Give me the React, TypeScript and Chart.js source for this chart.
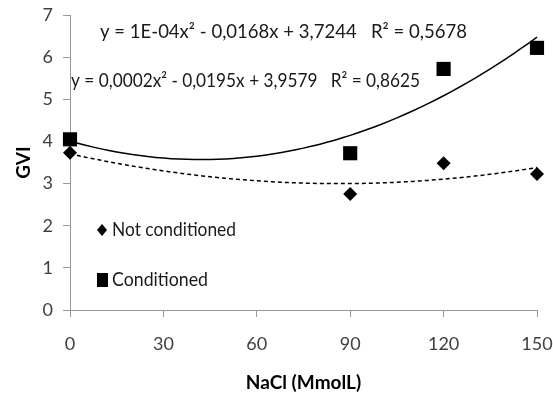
import React, { useEffect, useRef } from "react";
import { Chart, registerables } from "chart.js";

Chart.register(...registerables);

// ---- data ----
const nacl = [0, 90, 120, 150];
const notConditioned = [3.73, 2.75, 3.48, 3.23];
const conditioned = [4.05, 3.72, 5.72, 6.22];
const xTickValues = [0, 30, 60, 90, 120, 150];
const yTickValues = [0, 1, 2, 3, 4, 5, 6, 7];
const eqNotConditioned = "y = 1E-04x² - 0,0168x + 3,7244   R² = 0,5678";
const eqConditioned = "y = 0,0002x² - 0,0195x + 3,9579   R² = 0,8625";
const legendLabels = ["Not conditioned", "Conditioned"];
const xTitle = "NaCl (MmolL)";
const yTitle = "GVI";

const FONT = 'Lato, "Open Sans", sans-serif';

// polynomial (order 2) least-squares trendline, like the spreadsheet's trendline
function quadFit(xs: number[], ys: number[]) {
  const s = [0, 0, 0, 0, 0];
  const t = [0, 0, 0];
  xs.forEach((x, i) => {
    for (let k = 0; k < 5; k++) s[k] += Math.pow(x, k);
    for (let k = 0; k < 3; k++) t[k] += Math.pow(x, k) * ys[i];
  });
  const m = [
    [s[0], s[1], s[2], t[0]],
    [s[1], s[2], s[3], t[1]],
    [s[2], s[3], s[4], t[2]],
  ];
  for (let i = 0; i < 3; i++) {
    for (let j = i + 1; j < 3; j++) {
      const f = m[j][i] / m[i][i];
      for (let k = i; k < 4; k++) m[j][k] -= f * m[i][k];
    }
  }
  const c = [0, 0, 0];
  for (let i = 2; i >= 0; i--) {
    let v = m[i][3];
    for (let k = i + 1; k < 3; k++) v -= m[i][k] * c[k];
    c[i] = v / m[i][i];
  }
  return (x: number) => c[0] + c[1] * x + c[2] * x * x;
}

function trendPoints(xs: number[], ys: number[]) {
  const f = quadFit(xs, ys);
  const pts: { x: number; y: number }[] = [];
  const lo = xs[0];
  const hi = xs[xs.length - 1];
  const n = 60;
  for (let i = 0; i <= n; i++) {
    const x = lo + ((hi - lo) * i) / n;
    pts.push({ x, y: f(x) });
  }
  return pts;
}

const annotationPlugin = {
  id: "eqAndLegend",
  afterDraw(chart: any) {
    const { ctx, chartArea } = chart;
    const L = chartArea.left;
    const T = chartArea.top;
    ctx.save();
    ctx.fillStyle = "#1a1a1a";
    ctx.textBaseline = "middle";
    ctx.textAlign = "left";
    ctx.font = `19px ${FONT}`;
    ctx.fillText(eqNotConditioned, L + 30, T + 17, 367);
    ctx.fillText(eqConditioned, L + 1, T + 66, 349);

    // legend
    const lx = L + 32;
    const ly1 = T + 215;
    const ly2 = T + 265;
    ctx.fillStyle = "#000";
    ctx.beginPath();
    ctx.moveTo(lx - 5, ly1);
    ctx.lineTo(lx, ly1 - 6);
    ctx.lineTo(lx + 5, ly1);
    ctx.lineTo(lx, ly1 + 6);
    ctx.closePath();
    ctx.fill();
    ctx.fillRect(lx - 5, ly2 - 7, 11, 14);
    ctx.fillStyle = "#1a1a1a";
    ctx.fillText(legendLabels[0], lx + 10, ly1, 124);
    ctx.fillText(legendLabels[1], lx + 10, ly2, 96);
    ctx.restore();
  },
};

export default function App() {
  const ref = useRef<HTMLCanvasElement | null>(null);

  useEffect(() => {
    document.body.style.margin = "0";
    const canvas = ref.current;
    if (!canvas) return;

    const chart = new Chart(canvas, {
      type: "scatter",
      data: {
        datasets: [
          {
            label: legendLabels[0] + " trend",
            type: "line",
            data: trendPoints(nacl, notConditioned),
            borderColor: "#000",
            borderWidth: 1.5,
            borderDash: [4, 3],
            pointRadius: 0,
            fill: false,
            tension: 0,
            clip: false,
          },
          {
            label: legendLabels[1] + " trend",
            type: "line",
            data: trendPoints(nacl, conditioned),
            borderColor: "#000",
            borderWidth: 1.5,
            pointRadius: 0,
            fill: false,
            tension: 0,
            clip: false,
          },
          {
            label: legendLabels[0],
            data: nacl.map((x, i) => ({ x, y: notConditioned[i] })),
            pointStyle: "rectRot",
            pointRadius: 7,
            backgroundColor: "#000",
            borderColor: "#000",
            borderWidth: 0,
            clip: false,
          },
          {
            label: legendLabels[1],
            data: nacl.map((x, i) => ({ x, y: conditioned[i] })),
            pointStyle: "rect",
            pointRadius: 10,
            backgroundColor: "#000",
            borderColor: "#000",
            borderWidth: 0,
            clip: false,
          },
        ],
      },
      options: {
        animation: false,
        responsive: false,
        maintainAspectRatio: false,
        layout: { padding: { top: 15, right: 16, left: 0, bottom: 0 } },
        plugins: {
          legend: { display: false },
          tooltip: { enabled: false },
        },
        scales: {
          x: {
            type: "linear",
            min: 0,
            max: 150,
            afterBuildTicks: (s: any) => {
              s.ticks = xTickValues.map((v) => ({ value: v }));
            },
            afterFit: (s: any) => {
              s.height = 86;
              s.paddingLeft = 0;
              s.paddingRight = 0;
            },
            grid: { drawOnChartArea: false, tickLength: 7, color: "#999", lineWidth: 1 },
            border: { color: "#999", width: 1 },
            ticks: {
              font: { size: 18, family: FONT },
              color: "#404040",
              padding: 16,
              maxRotation: 0,
            },
            title: {
              display: true,
              text: xTitle,
              font: { size: 19, weight: "bold", family: FONT },
              color: "#000",
              padding: { top: 0, bottom: 2 },
            },
          },
          y: {
            min: 0,
            max: 7,
            afterBuildTicks: (s: any) => {
              s.ticks = yTickValues.map((v) => ({ value: v }));
            },
            afterFit: (s: any) => {
              s.width = 70;
              s.paddingTop = 0;
              s.paddingBottom = 0;
            },
            grid: { drawOnChartArea: false, tickLength: 7, color: "#999", lineWidth: 1 },
            border: { color: "#999", width: 1 },
            ticks: {
              font: { size: 18, family: FONT },
              color: "#404040",
              padding: 10,
            },
            title: {
              display: true,
              text: yTitle,
              font: { size: 19, weight: "bold", family: FONT },
              color: "#000",
              padding: { top: 12, bottom: 0 },
            },
          },
        },
      },
      plugins: [annotationPlugin],
    } as any);

    return () => chart.destroy();
  }, []);

  return (
    <div style={{ width: 553, height: 396, background: "#fff" }}>
      <canvas ref={ref} width={553} height={396} style={{ display: "block" }} />
    </div>
  );
}
